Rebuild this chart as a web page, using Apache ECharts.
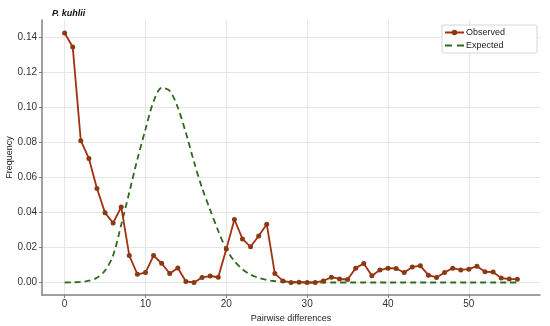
<!DOCTYPE html>
<html>
<head>
<meta charset="utf-8">
<script src="https://cdn.jsdelivr.net/npm/echarts@6/dist/echarts.min.js"></script>
<style>
  html, body { margin: 0; padding: 0; background: #fff; }
  #chart { width: 550px; height: 326px; }
</style>
</head>
<body>
<div id="chart"></div>
<script>
// pairwise differences 0..56
var diffs = [];
for (var i = 0; i <= 56; i++) diffs.push(i);

var observed = [
  0.1426, 0.1346, 0.0810, 0.0709, 0.0537, 0.0398, 0.0340, 0.0432, 0.0154, 0.0047,
  0.0057, 0.0154, 0.0110, 0.0051, 0.0083, 0.0006, 0.0000, 0.0029, 0.0037, 0.0030,
  0.0192, 0.0360, 0.0249, 0.0204, 0.0266, 0.0333, 0.0051, 0.0009, 0.0000, 0.0002,
  0.0000, 0.0000, 0.0009, 0.0030, 0.0020, 0.0017, 0.0082, 0.0108, 0.0038, 0.0071,
  0.0082, 0.0080, 0.0057, 0.0089, 0.0095, 0.0042, 0.0029, 0.0057, 0.0082, 0.0072,
  0.0076, 0.0093, 0.0061, 0.0060, 0.0025, 0.0020, 0.0019
];

var expected = [
  0.0000, 0.0001, 0.0003, 0.0010, 0.0027, 0.0068, 0.0155, 0.0330, 0.0515, 0.0705,
  0.0875, 0.1035, 0.1112, 0.1095, 0.1000, 0.0855, 0.0690, 0.0540, 0.0415, 0.0295,
  0.0190, 0.0122, 0.0075, 0.0045, 0.0026, 0.0014, 0.0008, 0.0004, 0.0002, 0.0001,
  0.0000, 0.0000, 0.0000, 0.0000, 0.0000, 0.0000, 0.0000, 0.0000, 0.0000, 0.0000,
  0.0000, 0.0000, 0.0000, 0.0000, 0.0000, 0.0000, 0.0000, 0.0000, 0.0000, 0.0000,
  0.0000, 0.0000, 0.0000, 0.0000, 0.0000, 0.0000, 0.0000
];

var xTicks = [0, 10, 20, 30, 40, 50];
var yTicks = [0, 0.02, 0.04, 0.06, 0.08, 0.10, 0.12, 0.14];

function pairs(ys) {
  return diffs.map(function (x, i) { return [x, ys[i]]; });
}

var chart = echarts.init(document.getElementById('chart'), null, { renderer: 'canvas' });

chart.setOption({
  animation: false,
  backgroundColor: '#ffffff',
  textStyle: { fontFamily: 'Liberation Sans' },
  title: {
    text: 'P. kuhlii',
    left: 47,
    top: 4,
    textStyle: { fontSize: 9, fontWeight: 'bold', fontStyle: 'italic', color: '#111' }
  },
  legend: {
    right: 13,
    top: 25,
    orient: 'vertical',
    itemGap: 4,
    itemWidth: 19,
    itemHeight: 7,
    padding: [3, 32, 3, 2],
    borderColor: '#d6d6d6',
    borderWidth: 1,
    borderRadius: 2,
    backgroundColor: '#fff',
    textStyle: { fontSize: 9, color: '#222', padding: [0, 0, 0, -3] },
    data: [
      { name: 'Observed' },
      { name: 'Expected', icon: 'path://M0,0 L7,0 L7,2 L0,2 Z M12,0 L19,0 L19,2 L12,2 Z' }
    ]
  },
  grid: { left: 42, right: 10, top: 20, bottom: 31, containLabel: false, outerBoundsMode: 'none' },
  xAxis: {
    type: 'value',
    min: -2.8,
    max: 58.8,
    name: 'Pairwise differences',
    nameLocation: 'middle',
    nameGap: 19,
    nameMoveOverlap: false,
    nameTextStyle: { fontSize: 9, color: '#222' },
    axisLine: { onZero: false, lineStyle: { color: '#808080', width: 1.5 } },
    axisTick: { show: true, length: 3, customValues: xTicks, lineStyle: { color: '#808080' } },
    axisLabel: { customValues: xTicks, fontSize: 10, color: '#333', margin: 4 },
    splitLine: { show: true, lineStyle: { color: '#e6e6e6', width: 1 } }
  },
  yAxis: {
    type: 'value',
    min: -0.00715,
    max: 0.150,
    name: 'Frequency',
    nameLocation: 'middle',
    nameGap: 28,
    nameMoveOverlap: false,
    nameRotate: 90,
    nameTextStyle: { fontSize: 9, color: '#222' },
    axisLine: { show: true, onZero: false, lineStyle: { color: '#808080', width: 1.5 } },
    axisTick: { show: true, length: 3, customValues: yTicks, lineStyle: { color: '#808080' } },
    axisLabel: {
      customValues: yTicks,
      fontSize: 10,
      color: '#333',
      margin: 5,
      formatter: function (v) { return v.toFixed(2); }
    },
    splitLine: { show: true, lineStyle: { color: '#e6e6e6', width: 1 } }
  },
  series: [
    {
      name: 'Observed',
      type: 'line',
      data: pairs(observed),
      symbol: 'circle',
      symbolSize: 5,
      lineStyle: { color: '#a3300f', width: 1.8 },
      itemStyle: { color: '#8a3a12' },
      z: 3
    },
    {
      name: 'Expected',
      type: 'line',
      data: pairs(expected),
      symbol: 'none',
      smooth: 0.3,
      lineStyle: { color: '#2f6b1f', width: 1.8, type: [6, 4] },
      itemStyle: { color: '#2f6b1f' },
      z: 2
    }
  ]
});
</script>
</body>
</html>
